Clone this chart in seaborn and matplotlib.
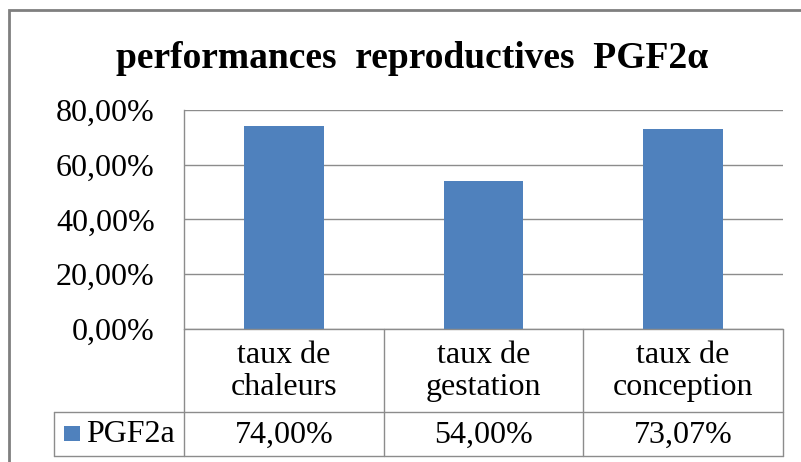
import matplotlib
matplotlib.use("Agg")
import matplotlib.pyplot as plt
from matplotlib.lines import Line2D
from matplotlib.patches import Rectangle
import seaborn as sns
import pandas as pd

# Data
categories = ["taux de\nchaleurs", "taux de\ngestation", "taux de\nconception"]
values = [0.74, 0.54, 0.7307]
value_labels = ["74,00%", "54,00%", "73,07%"]
series_name = "PGF2a"
y_ticks = [0.0, 0.2, 0.4, 0.6, 0.8]
y_tick_labels = ["0,00%", "20,00%", "40,00%", "60,00%", "80,00%"]
title = "performances  reproductives  PGF2\u03b1"

BAR_COLOR = "#4F81BD"
LINE_COLOR = "#8C8C8C"
TEXT_COLOR = "black"
FONT = ["Liberation Serif", "DejaVu Serif"]
FS = 23

sns.set_theme(style="white")
plt.rcParams["font.family"] = FONT
plt.rcParams["text.color"] = TEXT_COLOR
plt.rcParams["ytick.color"] = TEXT_COLOR
plt.rcParams["ytick.labelcolor"] = TEXT_COLOR

W, H = 801, 462
fig = plt.figure(figsize=(W / 100, H / 100), dpi=100)
fig.patch.set_facecolor("white")


def fx(px):
    return px / W


def fy(py):
    return 1 - py / H


# Plot area in pixel coordinates
L, R, T, B = 184, 783, 110, 329
ax = fig.add_axes([fx(L), fy(B), fx(R) - fx(L), fy(T) - fy(B)])

df = pd.DataFrame({"cat": categories, "val": values})
sns.barplot(data=df, x="cat", y="val", color=BAR_COLOR, width=0.4,
            saturation=1, ax=ax, edgecolor="none")

ax.set_xlim(-0.5, len(categories) - 0.5)
ax.set_ylim(0, 0.8)
ax.set_yticks(y_ticks)
ax.set_yticklabels(y_tick_labels, fontsize=FS, fontfamily=FONT,
                   color=TEXT_COLOR)
ax.tick_params(axis="y", length=0, pad=21)
ax.set_xticks([])
ax.set_xlabel("")
ax.set_ylabel("")
ax.yaxis.grid(True, color=LINE_COLOR, linewidth=1)
ax.set_axisbelow(True)
for side in ["top", "right", "bottom"]:
    ax.spines[side].set_visible(False)
ax.spines["left"].set_color(LINE_COLOR)
ax.spines["left"].set_linewidth(1)


def hline(x0, x1, y, **kw):
    fig.add_artist(Line2D([fx(x0), fx(x1)], [fy(y), fy(y)], color=LINE_COLOR,
                          linewidth=1, **kw))


def vline(x, y0, y1, **kw):
    fig.add_artist(Line2D([fx(x), fx(x)], [fy(y0), fy(y1)], color=LINE_COLOR,
                          linewidth=1, **kw))


# Data table under the axis
col_edges = [184, 384, 583, 783]
row1_bottom, row2_bottom = 412, 456
legend_left = 54
hline(L, R, B)
hline(legend_left, R, row1_bottom)
hline(legend_left, R, row2_bottom)
for x in col_edges:
    vline(x, B, row2_bottom)
vline(legend_left, row1_bottom, row2_bottom)

for i, (cat, lab) in enumerate(zip(categories, value_labels)):
    cx = (col_edges[i] + col_edges[i + 1]) / 2
    fig.text(fx(cx), fy((B + row1_bottom) / 2 + 1), cat, ha="center",
             va="center", fontsize=FS, linespacing=1.12, fontfamily=FONT)
    fig.text(fx(cx), fy((row1_bottom + row2_bottom) / 2 + 1), lab,
             ha="center", va="center", fontsize=FS, fontfamily=FONT)

# Legend key inside the table
fig.add_artist(Rectangle((fx(64), fy(441)), fx(16), fy(426) - fy(441),
                         facecolor=BAR_COLOR, edgecolor="none"))
fig.text(fx(86), fy((row1_bottom + row2_bottom) / 2 + 1), series_name,
         ha="left", va="center", fontsize=FS, fontfamily=FONT)

# Title
fig.text(fx(412), fy(58), title, ha="center", va="center", fontsize=27,
         fontweight="bold", fontfamily=FONT)

# Outer chart border
fig.add_artist(Rectangle((fx(9), fy(480)), fx(820), fy(10) - fy(480),
                         facecolor="none", edgecolor="#7F7F7F", linewidth=2,
                         clip_on=False))

fig.savefig("out.png", dpi=100, facecolor="white")
